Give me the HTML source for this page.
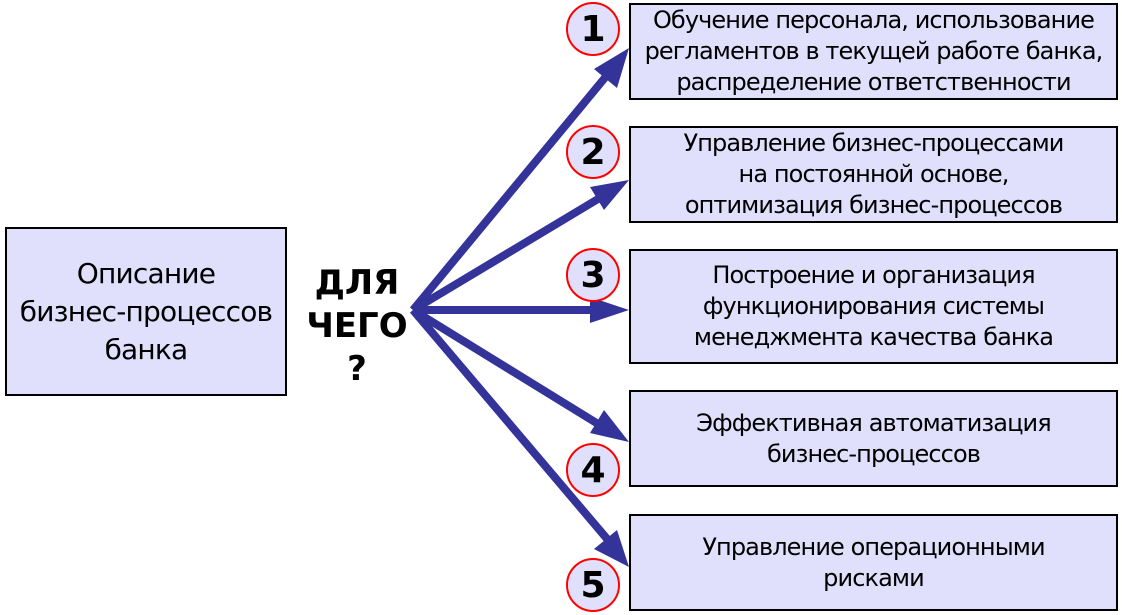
<!DOCTYPE html>
<html><head><meta charset="utf-8"><style>
body{margin:0;width:1122px;height:615px;background:#fff;position:relative;overflow:hidden;font-family:"DejaVu Sans","Liberation Sans",sans-serif;}
.b{position:absolute;background:#e0e0fc;border:2px solid #000;box-sizing:border-box;display:flex;align-items:center;justify-content:center;text-align:center;font-size:24px;line-height:31px;color:#000;letter-spacing:-0.9px;white-space:nowrap}
.c{position:absolute;width:54px;height:54px;border:2px solid #f00;border-radius:50%;background:#e0e0fc;box-sizing:border-box;display:flex;align-items:center;justify-content:center;font-weight:bold;font-size:36px;font-family:"DejaVu Sans",sans-serif}
</style></head><body>
<svg width="1122" height="615" style="position:absolute;left:0;top:0">
<g stroke="#333399" stroke-width="8" fill="none">
<line x1="413" y1="310" x2="608" y2="74"/>
<line x1="413" y1="310" x2="603" y2="196"/>
<line x1="413" y1="310" x2="596" y2="310"/>
<line x1="413" y1="310" x2="603" y2="427"/>
<line x1="413" y1="310" x2="608" y2="540"/>
</g>
<g fill="#333399">
<polygon points="629,48 617,88 594,69"/>
<polygon points="629,180 604,210 590,187"/>
<polygon points="629,310 590,323 590,297"/>
<polygon points="629,442 590,433 604,410"/>
<polygon points="629,567 594,549 617,530"/>
</g>
</svg>
<div class="b" style="left:5px;top:227px;width:282px;height:169px;font-size:28px;line-height:38px;letter-spacing:-0.8px">Описание<br>бизнес-процессов<br>банка</div>
<div style="position:absolute;left:287px;top:262px;width:140px;text-align:center;font-weight:bold;font-size:34px;line-height:43px;font-family:'DejaVu Sans',sans-serif">ДЛЯ<br>ЧЕГО<br>?</div>
<div class="b" style="left:629px;top:3px;width:489px;height:97px">Обучение персонала, использование<br>регламентов в текущей работе банка,<br>распределение ответственности</div>
<div class="b" style="left:629px;top:126px;width:489px;height:97px">Управление бизнес-процессами<br>на постоянной основе,<br>оптимизация бизнес-процессов</div>
<div class="b" style="left:629px;top:249px;width:489px;height:115px">Построение и организация<br>функционирования системы<br>менеджмента качества банка</div>
<div class="b" style="left:629px;top:390px;width:489px;height:97px">Эффективная автоматизация<br>бизнес-процессов</div>
<div class="b" style="left:629px;top:514px;width:489px;height:97px">Управление операционными<br>рисками</div>
<div class="c" style="left:566px;top:2px">1</div>
<div class="c" style="left:566px;top:125px">2</div>
<div class="c" style="left:566px;top:248px">3</div>
<div class="c" style="left:566px;top:443px">4</div>
<div class="c" style="left:566px;top:558px">5</div>
</body></html>
